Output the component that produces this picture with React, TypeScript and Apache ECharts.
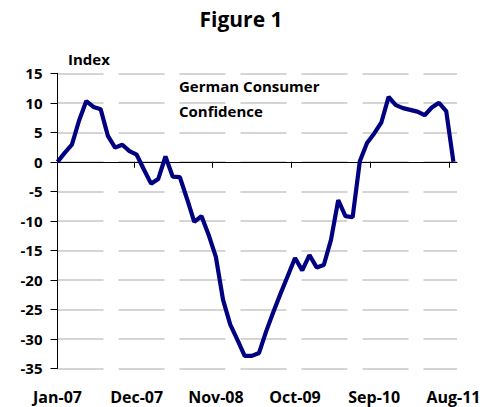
import React, { useEffect, useRef } from "react";
import * as echarts from "echarts";

const months = [
  "Jan-07","Feb-07","Mar-07","Apr-07","May-07","Jun-07","Jul-07","Aug-07","Sep-07","Oct-07","Nov-07","Dec-07",
  "Jan-08","Feb-08","Mar-08","Apr-08","May-08","Jun-08","Jul-08","Aug-08","Sep-08","Oct-08","Nov-08","Dec-08",
  "Jan-09","Feb-09","Mar-09","Apr-09","May-09","Jun-09","Jul-09","Aug-09","Sep-09","Oct-09","Nov-09","Dec-09",
  "Jan-10","Feb-10","Mar-10","Apr-10","May-10","Jun-10","Jul-10","Aug-10","Sep-10","Oct-10","Nov-10","Dec-10",
  "Jan-11","Feb-11","Mar-11","Apr-11","May-11","Jun-11","Jul-11","Aug-11",
];

const confidence = [
  0, 1.5, 2.9, 7.0, 10.3, 9.3, 8.9, 4.4, 2.4, 2.9, 1.8, 1.2,
  -1.3, -3.7, -2.9, 0.9, -2.5, -2.6, -6.3, -10.2, -9.2, -12.4, -16.1, -23.4,
  -27.6, -30.2, -32.9, -32.9, -32.4, -28.7, -25.4, -22.3, -19.3, -16.3, -18.4, -15.8,
  -17.9, -17.5, -13.2, -6.5, -9.2, -9.4, 0.1, 3.2, 4.8, 6.7, 11.0, 9.6,
  9.1, 8.8, 8.5, 7.9, 9.2, 10.0, 8.6, 0,
];

const labelIndices = [0, 11, 22, 33, 44, 55];
const tickPositions = [10.6, 21.5, 32.5, 43.5, 54.4];

const FONT = "'Open Sans', sans-serif";

export default function App() {
  const ref = useRef<HTMLDivElement>(null);
  useEffect(() => {
    if (!ref.current) return;
    const chart = echarts.init(ref.current, null, { renderer: "svg" });
    const xMin = 0;
    const xMax = 55.5;
    chart.setOption({
      animation: false,
      backgroundColor: "#ffffff",
      grid: { left: 57.5, right: 38, top: 73.3, bottom: 38.7, containLabel: false },
      xAxis: [
        {
          type: "value",
          min: xMin,
          max: xMax,
          position: "bottom",
          axisLine: { show: true, onZero: true, lineStyle: { color: "#000", width: 1 } },
          axisTick: { show: true, length: 6, lineStyle: { color: "#000" }, customValues: tickPositions },
          axisLabel: { show: false },
          splitLine: { show: false },
        },
        {
          type: "value",
          min: xMin,
          max: xMax,
          position: "bottom",
          axisLine: { show: false, onZero: false },
          axisTick: { show: false },
          splitLine: { show: false },
          axisLabel: {
            show: true,
            customValues: labelIndices,
            formatter: (v: number) => months[Math.round(v)] ?? "",
            fontFamily: FONT,
            fontWeight: "bold",
            fontSize: 16,
            color: "#000",
            margin: 21,
          },
        },
      ],
      yAxis: {
        type: "value",
        min: -35,
        max: 15,
        interval: 5,
        axisLine: { show: true, lineStyle: { color: "#000", width: 1 } },
        axisTick: { show: true, length: 7, lineStyle: { color: "#000" } },
        axisLabel: { fontFamily: FONT, fontWeight: "bold", fontSize: 15, color: "#000", margin: 15 },
        splitLine: { show: true, lineStyle: { color: "#c8c8c8", width: 1.5, type: [46, 15] } },
      },
      series: [
        {
          type: "line",
          xAxisIndex: 0,
          data: confidence.map((v, i) => [i, v]),
          showSymbol: false,
          symbol: "none",
          lineStyle: { color: "#000080", width: 4.2 },
          z: 5,
        },
      ],
      graphic: [
        {
          type: "text",
          x: 241,
          y: 29,
          style: { text: "Figure 1", fontFamily: FONT, fontWeight: "bold", fontSize: 21, fill: "#000", textAlign: "center", textVerticalAlign: "bottom" },
        },
        {
          type: "text",
          x: 68,
          y: 66,
          style: { text: "Index", fontFamily: FONT, fontWeight: "bold", fontSize: 15, fill: "#000", textAlign: "left", textVerticalAlign: "bottom" },
        },
        {
          type: "text",
          x: 179,
          y: 93,
          style: { text: "German Consumer", fontFamily: FONT, fontWeight: "bold", fontSize: 15, fill: "#000", textAlign: "left", textVerticalAlign: "bottom" },
        },
        {
          type: "text",
          x: 179,
          y: 118.5,
          style: { text: "Confidence", fontFamily: FONT, fontWeight: "bold", fontSize: 15, fill: "#000", textAlign: "left", textVerticalAlign: "bottom" },
        },
      ],
    });
    return () => chart.dispose();
  }, []);
  return <div ref={ref} style={{ width: 495, height: 407, position: "absolute", left: 0, top: 0 }} />;
}
